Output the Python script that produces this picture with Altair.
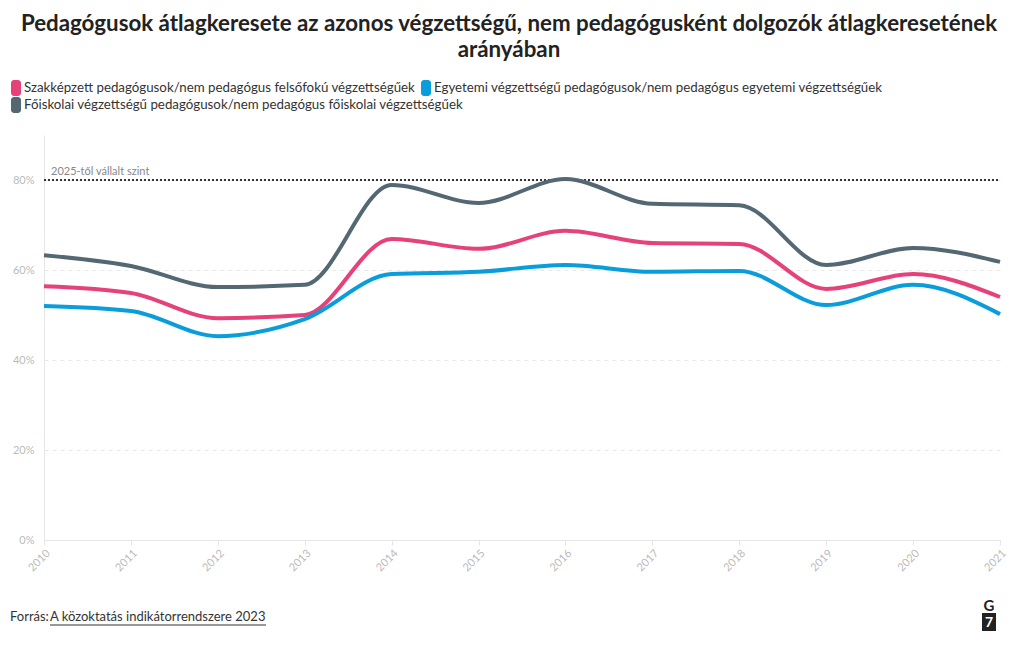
import altair as alt
import pandas as pd

years = list(range(2010, 2022))
series_names = [
    "Szakképzett pedagógusok/nem pedagógus felsőfokú végzettségűek",
    "Egyetemi végzettségű pedagógusok/nem pedagógus egyetemi végzettségűek",
    "Főiskolai végzettségű pedagógusok/nem pedagógus főiskolai végzettségűek",
]
szak = [56.4, 54.9, 49.3, 50.0, 66.9, 64.7, 68.7, 66.0, 65.8, 55.8, 59.1, 54.0]
egyetemi = [52.0, 50.9, 45.3, 49.1, 59.1, 59.6, 61.1, 59.6, 59.8, 52.2, 56.7, 50.2]
foiskolai = [63.3, 60.9, 56.2, 56.7, 78.9, 74.9, 80.2, 74.7, 74.4, 61.1, 64.9, 61.8]
colors = ["#e6427a", "#0a9ddb", "#536872"]
target_value = [80]
target_label = ["2025-től vállalt szint"]
source_prefix = ["Forrás:"]
source_link = ["A közoktatás indikátorrendszere 2023"]
title_lines = [
    "Pedagógusok átlagkeresete az azonos végzettségű, nem pedagógusként dolgozók átlagkeresetének",
    "arányában",
]

rows = []
for name, vals in zip(series_names, [szak, egyetemi, foiskolai]):
    for y, v in zip(years, vals):
        rows.append({"ev": y, "ertek": v, "sorozat": name})
df = pd.DataFrame(rows)

FONT = "Lato"
W, H = 956, 405

x_enc = alt.X(
    "ev:Q",
    scale=alt.Scale(domain=[2010, 2021], nice=False, zero=False),
    axis=alt.Axis(
        values=years, format="d", title=None, labelAngle=-45, labelAlign="right",
        labelBaseline="top", labelColor="#bbbbbb", labelFontSize=11, labelFont=FONT,
        tickColor="#e6e6e6", tickSize=5, domainColor="#e6e6e6", grid=False,
        labelPadding=2,
    ),
)
y_enc = alt.Y(
    "ertek:Q",
    scale=alt.Scale(domain=[0, 90], nice=False),
    axis=alt.Axis(
        values=[0, 20, 40, 60, 80], labelExpr="datum.value + '%'", title=None,
        labelColor="#bbbbbb", labelFontSize=11, labelFont=FONT, ticks=False,
        domainColor="#e6e6e6", gridColor="#e8e8e8", gridDash=[4, 4], labelPadding=10,
    ),
)

color_scale = alt.Scale(domain=series_names, range=colors)

lines = alt.Chart(df).mark_line(interpolate="monotone", strokeWidth=4).encode(
    x=x_enc,
    y=y_enc,
    color=alt.Color("sorozat:N", scale=color_scale, legend=None),
)

# manual legend (row-wrapped like the reference)
legend_slots = [(-33, -47), (377, -47), (-33, -30)]
legend_layers = []
for name, (lx, ly) in zip(series_names, legend_slots):
    ldf = pd.DataFrame({"sorozat": [name]})
    sym = alt.Chart(ldf).mark_rect(cornerRadius=3).encode(
        x=alt.value(lx), x2=alt.value(lx + 10), y=alt.value(ly - 8), y2=alt.value(ly + 8),
        color=alt.Color("sorozat:N", scale=color_scale, legend=None),
    )
    lab = alt.Chart(ldf).mark_text(
        align="left", baseline="middle", color="#333333", fontSize=13.3, font=FONT
    ).encode(x=alt.value(lx + 13), y=alt.value(ly), text="sorozat:N")
    legend_layers += [sym, lab]

tdf = pd.DataFrame({"v": target_value, "lab": target_label})
rule = alt.Chart(tdf).mark_rule(color="#333333", strokeDash=[2, 2], strokeWidth=2).encode(
    y=alt.Y("v:Q"), x=alt.value(0), x2=alt.value(W)
)
rule_text = alt.Chart(tdf).mark_text(
    align="left", baseline="bottom", dx=7, dy=-3, color="#888888", fontSize=11, font=FONT
).encode(y=alt.Y("v:Q"), x=alt.value(0), text="lab:N")

src = pd.DataFrame({"a": source_prefix, "b": source_link})
src_a = alt.Chart(src).mark_text(
    align="left", baseline="middle", color="#333333", fontSize=13, font=FONT
).encode(x=alt.value(-34), y=alt.value(H + 77), text="a:N")
src_b = alt.Chart(src).mark_text(
    align="left", baseline="middle", color="#333333", fontSize=13, font=FONT
).encode(x=alt.value(6), y=alt.value(H + 77), text="b:N")
src_u = alt.Chart(src).mark_rule(color="#333333", strokeWidth=1).encode(
    x=alt.value(6), x2=alt.value(222), y=alt.value(H + 85)
)

logo_df = pd.DataFrame({"g": ["G"], "s": ["7"]})
logo_g = alt.Chart(logo_df).mark_text(
    align="center", baseline="middle", color="#222222", fontSize=15, fontWeight="bold", font=FONT
).encode(x=alt.value(W - 11), y=alt.value(H + 66), text="g:N")
logo_box = alt.Chart(logo_df).mark_rect(color="#222222").encode(
    x=alt.value(W - 18), x2=alt.value(W - 4), y=alt.value(H + 73), y2=alt.value(H + 91)
)
logo_7 = alt.Chart(logo_df).mark_text(
    align="center", baseline="middle", color="#ffffff", fontSize=14, fontWeight="bold", font=FONT
).encode(x=alt.value(W - 11), y=alt.value(H + 83), text="s:N")

chart = alt.layer(
    rule, rule_text, lines, *legend_layers, src_a, src_b, src_u, logo_box, logo_g, logo_7
).properties(
    width=W, height=H, background="white",
    padding={"left": 2, "top": 4, "right": 4, "bottom": 4},
    title=alt.TitleParams(
        text=title_lines, font=FONT, fontSize=22.3, fontWeight="bold", color="#222222",
        anchor="middle", frame="bounds", lineHeight=26, offset=19,
    ),
).configure_view(stroke=None)

chart.save("out.html", embed_options={"renderer": "svg", "actions": False})
